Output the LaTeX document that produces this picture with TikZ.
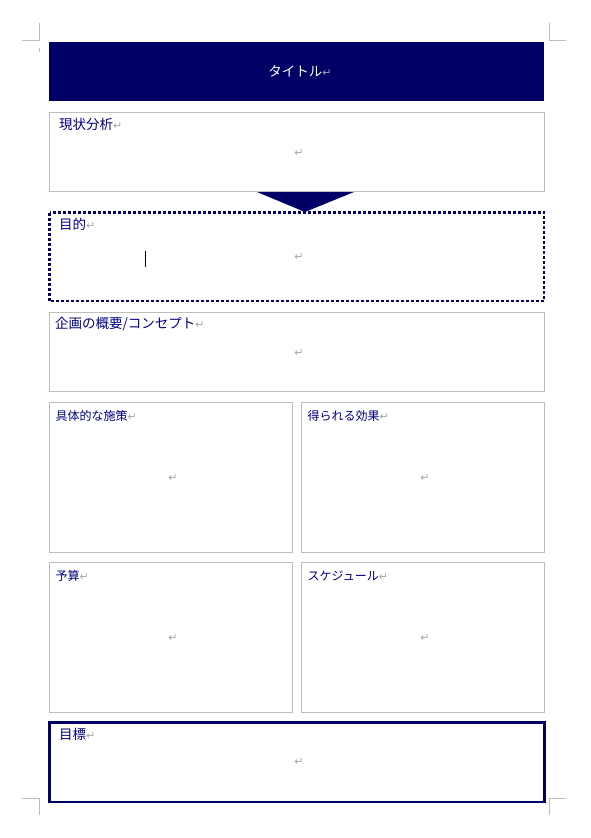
\documentclass[tikz,border=0pt]{standalone}
\usepackage{fontspec}
\newfontfamily\jpfont{Noto Sans CJK JP}
\newfontfamily\retfont{DejaVu Sans}
\definecolor{navy}{RGB}{0,0,102}
\definecolor{framegray}{RGB}{191,191,186}
\definecolor{retgray}{RGB}{165,165,165}
\definecolor{labelblue}{RGB}{0,0,128}
\newcommand\retmark{{\retfont\fontsize{11}{11}\selectfont\textcolor{retgray}{↵}}}
\tikzset{
  framebox/.style={draw=framegray, line width=1pt},
  boxlabel/.style={anchor=west, inner sep=0pt, text=labelblue, font=\jpfont\fontsize{13.5}{16}\selectfont},
  smalllabel/.style={boxlabel, font=\jpfont\fontsize{12}{14}\selectfont},
  retnode/.style={inner sep=0pt},
  cropmark/.style={draw=framegray, line width=1pt}
}

\begin{document}
\begin{tikzpicture}[x=1pt, y=-1pt]
    \useasboundingbox (0,0) rectangle (590,838);

    % crop marks
    \draw[cropmark] (22,40.5) -- (39.5,40.5) -- (39.5,23);
    \draw[cropmark] (39.5,48) -- (39.5,52);
    \draw[cropmark] (566,40.5) -- (549.5,40.5) -- (549.5,23);
    \draw[cropmark] (22,798.5) -- (39.5,798.5) -- (39.5,815);
    \draw[cropmark] (566,798.5) -- (549.5,798.5) -- (549.5,815);

    % title bar
    \fill[navy] (49,42) rectangle (544,101);
    \node[inner sep=0pt, text=white, font=\jpfont\fontsize{13.5}{16}\selectfont] (title) at (300,71) {タイトル\retmark};

    % current state
    \draw[framebox] (49.5,112.5) rectangle (544.5,191.5);
    \node[boxlabel] (genjo) at (59,124) {現状分析\retmark};
    \node[retnode] (genjo-ret) at (299,153) {\retmark};

    \fill[navy] (257,192) -- (354,192) -- (305,212) -- cycle;

    % purpose
    \draw[navy, line width=2.6pt, dash pattern=on 3pt off 2pt] (49.5,212.5) rectangle (544,301);
    \node[boxlabel] (mokuteki) at (59,224) {目的\retmark};
    \node[retnode] (mokuteki-ret) at (299,257) {\retmark};
    \draw[black, line width=1pt] (145.5,251) -- (145.5,267);

    % concept
    \draw[framebox] (49.5,312.5) rectangle (544.5,391.5);
    \node[boxlabel] (gaiyou) at (55,324) {企画の概要/コンセプト\retmark};
    \node[retnode] (gaiyou-ret) at (299,353) {\retmark};

    \foreach \x/\y/\name/\txt in {49.5/402.5/sesaku/具体的な施策, 301.5/402.5/kouka/得られる効果,
                                  49.5/562.5/yosan/予算, 301.5/562.5/sched/スケジュール} {
      \draw[framebox] (\x,\y) rectangle ++(243,150);
      \node[smalllabel] (\name) at (\x+6,\y+13) {\txt\retmark};
      \node[retnode] (\name-ret) at (\x+123.5,\y+75.5) {\retmark};
    }

    % goal
    \draw[navy, line width=2.6pt] (49.5,722.5) rectangle (544.5,802);
    \node[boxlabel] (mokuhyou) at (59,734) {目標\retmark};
    \node[retnode] (mokuhyou-ret) at (299,762) {\retmark};
\end{tikzpicture}
\end{document}
